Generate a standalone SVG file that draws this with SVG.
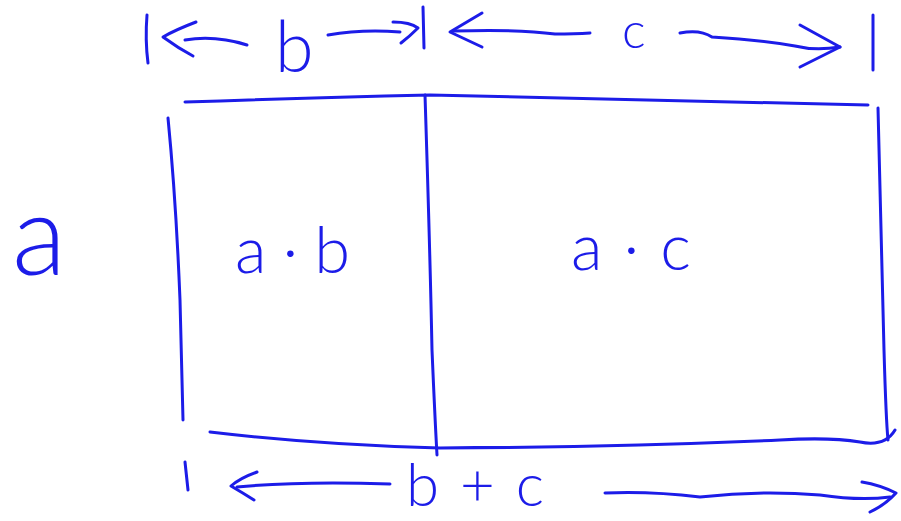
<svg xmlns="http://www.w3.org/2000/svg" width="901" height="521" viewBox="0 0 901 521">
<style>
.ln{fill:none;stroke:#1c1ce8;stroke-width:3;stroke-linecap:round;stroke-linejoin:round}
.tx{fill:#1c1ce8;font-family:Lato,"Open Sans",Roboto,"Liberation Sans",sans-serif;font-weight:300}
</style>
<rect width="901" height="521" fill="#fff"/>
<g id="connectors">
<!-- top b dimension -->
<path class="ln" d="M147,15 Q145,40 148,63"/>
<path class="ln" d="M196,22 Q175,30 163,37 Q178,48 193,56"/>
<path class="ln" d="M185,40 Q215,35 247,45"/>
<path class="ln" d="M328,35 Q362,29 400,32"/>
<path class="ln" d="M393,22 Q410,22 418,28 Q410,36 401,43"/>
<path class="ln" d="M423,7 L424,48"/>
<!-- top c dimension -->
<path class="ln" d="M482,13 L450,32 L482,47"/>
<path class="ln" d="M453,31 Q520,29 555,34 Q575,34 590,33"/>
<path class="ln" d="M680,33 Q700,29 712,37 Q760,40 795,46 Q815,51 840,47"/>
<path class="ln" d="M800,25 L840,47 L800,67"/>
<path class="ln" d="M873,15 L873,70"/>
<!-- bottom dimension -->
<path class="ln" d="M185,462 L188,490"/>
<path class="ln" d="M257,472 Q240,478 231,486 Q243,493 254,500"/>
<path class="ln" d="M237,487 Q300,481 390,484"/>
<path class="ln" d="M605,493 Q650,491 700,497 Q760,490 820,495 Q860,501 890,497"/>
<path class="ln" d="M862,482 Q880,485 896,493 Q885,505 870,512"/>
</g>
<g id="rectangle">
<path class="ln" d="M185,102 Q300,98 430,95 Q650,100 868,105"/>
<path class="ln" d="M168,118 Q176,200 180,300 Q182,380 183,420"/>
<path class="ln" d="M878,108 Q882,250 884,350 Q886,420 888,440"/>
<path class="ln" d="M210,432 Q320,445 440,448 Q620,447 780,440 Q830,437 860,442 Q885,447 895,430"/>
</g>
<g id="divider">
<path class="ln" d="M425,95 Q430,250 432,350 Q435,420 437,455"/>
</g>
<g id="label-a"><text class="tx" x="12" y="275" font-size="112">a</text></g>
<g id="label-b"><text class="tx" x="275" y="72" font-size="70">b</text></g>
<g id="label-c"><text class="tx" x="622" y="48" font-size="50">c</text></g>
<g id="cell-ab"><text class="tx" x="235" y="273" font-size="65" textLength="115" lengthAdjust="spacing">a·b</text></g>
<g id="cell-ac"><text class="tx" x="571" y="270" font-size="65" textLength="120" lengthAdjust="spacing">a·c</text></g>
<g id="label-bc"><text class="tx" x="406" y="506" font-size="60" textLength="138" lengthAdjust="spacing">b + c</text></g>
</svg>
